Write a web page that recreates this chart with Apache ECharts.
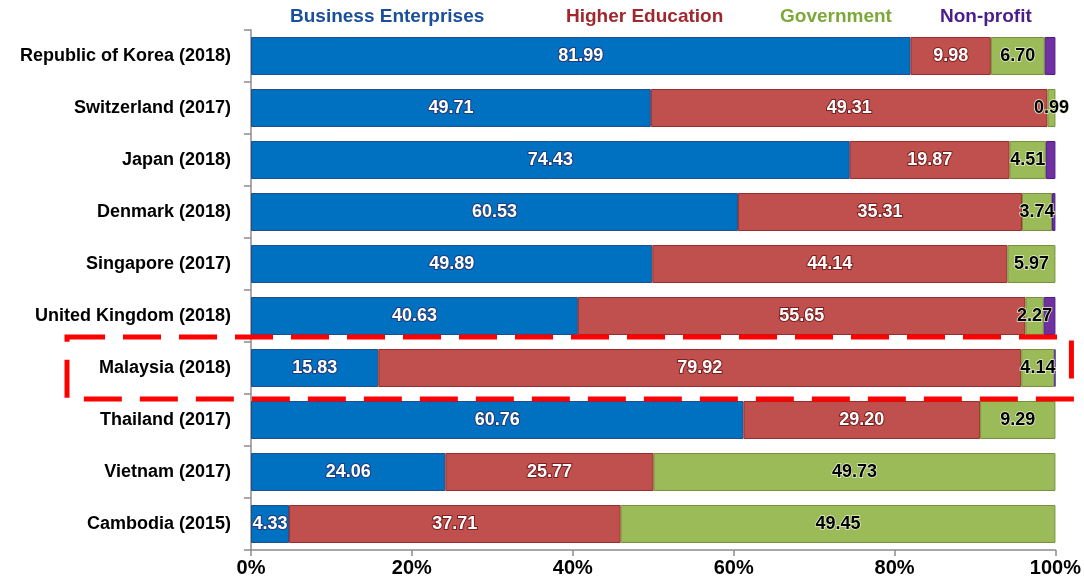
<!DOCTYPE html>
<html>
<head>
<meta charset="utf-8">
<script src="https://cdn.jsdelivr.net/npm/echarts@6/dist/echarts.min.js"></script>
<style>
  html, body { margin: 0; padding: 0; background: #fff; }
  #main { width: 1084px; height: 585px; }
</style>
</head>
<body>
<div id="main"></div>
<script>
// categories, top to bottom
const countries = ['Republic of Korea (2018)', 'Switzerland (2017)', 'Japan (2018)', 'Denmark (2018)',
  'Singapore (2017)', 'United Kingdom (2018)', 'Malaysia (2018)', 'Thailand (2017)', 'Vietnam (2017)', 'Cambodia (2015)']

// share of R&D performed by each sector (%)
const business   = [81.99, 49.71, 74.43, 60.53, 49.89, 40.63, 15.83, 60.76, 24.06, 4.33]
const higherEd   = [9.98, 49.31, 19.87, 35.31, 44.14, 55.65, 79.92, 29.20, 25.77, 37.71]
const government = [6.70, 0.99, 4.51, 3.74, 5.97, 2.27, 4.14, 9.29, 49.73, 49.45]
const nonProfit  = [1.33, 0, 1.19, 0.42, 0, 1.45, 0.11, 0, 0, 0]

const xTicks = [0, 20, 40, 60, 80, 100]
const highlighted = 'Malaysia (2018)'

// bars are drawn as 100% of each row's total
const totals = countries.map((c, i) => business[i] + higherEd[i] + government[i] + nonProfit[i])
const share = arr => arr.map((v, i) => v > 0 ? v / totals[i] * 100 : null)

const FONT = '"Liberation Sans", Arial, sans-serif'

function makeSeries(name, raw, color, border, label) {
  return {
    name: name,
    type: 'bar',
    stack: 'total',
    barWidth: '73%',
    data: share(raw),
    itemStyle: { color: color, borderColor: border, borderWidth: 1 },
    label: label ? Object.assign({
      show: true,
      position: 'inside',
      fontFamily: FONT,
      fontWeight: 'bold',
      fontSize: 18,
      formatter: p => raw[p.dataIndex] > 0 ? raw[p.dataIndex].toFixed(2) : ''
    }, label) : { show: false }
  }
}

function legendAt(name, left, color) {
  return {
    data: [name],
    left: left,
    top: 2,
    icon: 'none',
    itemWidth: 0,
    itemHeight: 0,
    selectedMode: false,
    textStyle: { color: color, fontFamily: FONT, fontWeight: 'bold', fontSize: 19, padding: 0 }
  }
}

var myChart = echarts.init(document.getElementById('main'))

var option = {
  animation: false,
  legend: [
    legendAt('Business Enterprises', 280, '#1A4F9C'),
    legendAt('Higher Education', 556, '#A0282D'),
    legendAt('Government', 770, '#7CA83A'),
    legendAt('Non-profit', 930, '#4B1D8C')
  ],
  grid: { left: 251, right: 28, top: 30, bottom: 35 },
  xAxis: {
    type: 'value',
    min: 0,
    max: 100,
    interval: 20,
    splitLine: { show: false },
    axisLine: { show: true, lineStyle: { color: '#8c8c8c', width: 1.5 } },
    axisTick: { show: true, length: 6, lineStyle: { color: '#8c8c8c', width: 1.5 } },
    axisLabel: {
      margin: 8,
      color: '#000',
      fontFamily: FONT,
      fontWeight: 'bold',
      fontSize: 20,
      formatter: v => xTicks.indexOf(v) >= 0 ? v + '%' : ''
    }
  },
  yAxis: {
    type: 'category',
    inverse: true,
    data: countries,
    axisLine: { show: true, lineStyle: { color: '#8c8c8c', width: 1.5 } },
    axisTick: { show: true, length: 7, lineStyle: { color: '#8c8c8c', width: 1.5 } },
    axisLabel: {
      margin: 20,
      color: '#000',
      fontFamily: FONT,
      fontWeight: 'bold',
      fontSize: 18
    }
  },
  series: [
    makeSeries('Business Enterprises', business, '#0070C0', '#1F4E8C',
      { color: '#fff', textBorderColor: '#1F3D7A', textBorderWidth: 2 }),
    makeSeries('Higher Education', higherEd, '#C0504D', '#9C2A2A',
      { color: '#fff', textBorderColor: '#7A1F1F', textBorderWidth: 2 }),
    makeSeries('Government', government, '#9BBB59', '#76923C',
      { color: '#000', textBorderColor: '#E6F0D0', textBorderWidth: 1.5 }),
    makeSeries('Non-profit', nonProfit, '#7030A0', '#4B1D8C', null)
  ]
}

myChart.setOption(option)

// red dashed box around the highlighted row
const yc = myChart.convertToPixel({ yAxisIndex: 0 }, highlighted)
const x0 = myChart.convertToPixel({ xAxisIndex: 0 }, 0)
const x1 = myChart.convertToPixel({ xAxisIndex: 0 }, 100)
myChart.setOption({
  graphic: [{
    type: 'rect',
    z: 100,
    shape: { x: x0 - 184, y: yc - 31, width: (x1 + 16) - (x0 - 184), height: 62 },
    style: { fill: 'none', stroke: '#FF0000', lineWidth: 5, lineDash: [38, 18] }
  }]
})
</script>
</body>
</html>
